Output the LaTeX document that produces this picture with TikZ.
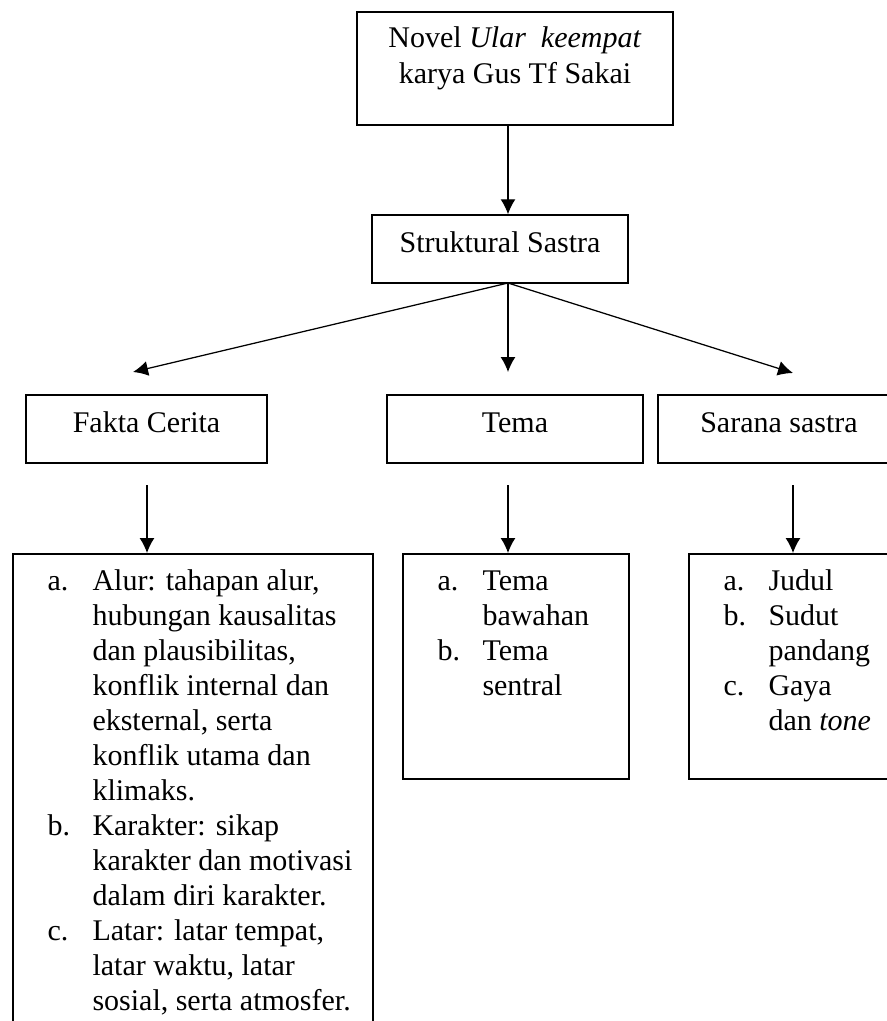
\documentclass[tikz,border=0pt]{standalone}
\usepackage{fontspec}
\setmainfont{Liberation Serif}
\usetikzlibrary{arrows.meta}
\tikzset{>={Latex[length=6pt, width=6pt]}}
\tikzset{
    kotak/.style={draw, line width=.6pt, inner sep=0pt},
    judul/.style={kotak, minimum height=27.2pt, text height=8pt, text depth=5.6pt},
    panah/.style={->, line width=.5pt},
}
\newcommand{\rinci}[1]{\begin{tabular}{@{}p{18pt}@{}l@{}}#1\end{tabular}}

\begin{document}
\begin{tikzpicture}[x=.4pt, y=-.4pt, font=\fontsize{12}{14}\selectfont]
    \useasboundingbox (0, 0) rectangle (887, 1021);
    % kotak judul
    \node[kotak, minimum width=126.4pt, minimum height=45.2pt](novel) at(515, 68.5){};
    \node[anchor=north, inner sep=0pt](novelteks) at(515, 21.6){\fontsize{12}{14.5}\selectfont
        \begin{tabular}{@{}c@{}}Novel \textit{Ular\ \ keempat}\\karya Gus Tf Sakai\end{tabular}};
    \node[judul, minimum width=102.4pt](struktural) at(500, 249){Struktural Sastra};
    \node[judul, minimum width=96.4pt](fakta) at(146.5, 429){Fakta Cerita};
    \node[judul, minimum width=102.4pt](tema) at(515, 429){Tema};
    \node[judul, minimum width=96.8pt](sarana) at(779, 429){Sarana sastra};
    % kotak rincian
    \node[kotak, anchor=north west, minimum width=144pt, minimum height=200pt](faktarinci) at(12, 553){};
    \node[kotak, anchor=north west, minimum width=90.4pt, minimum height=90pt](temarinci) at(402, 553){};
    \node[kotak, anchor=north west, minimum width=88pt, minimum height=90pt](saranarinci) at(688, 553){};
    \node[anchor=north west, inner sep=0pt](faktateks) at(47, 565.5){\rinci{
        a. & Alur: tahapan alur,\\ & hubungan kausalitas\\ & dan plausibilitas,\\
        & konflik internal dan\\ & eksternal, serta\\ & konflik utama dan\\ & klimaks.\\
        b. & Karakter: sikap\\ & karakter dan motivasi\\ & dalam diri karakter.\\
        c. & Latar: latar tempat,\\ & latar waktu, latar\\ & sosial, serta atmosfer.}};
    \node[anchor=north west, inner sep=0pt](temateks) at(437, 565.5){\rinci{
        a. & Tema\\ & bawahan\\ b. & Tema\\ & sentral}};
    \node[anchor=north west, inner sep=0pt](saranateks) at(723, 565.5){\rinci{
        a. & Judul\\ b. & Sudut\\ & pandang\\ c. & Gaya\\ & dan \textit{tone}}};
    % panah
    \coordinate (cabang) at(508, 283);
    \coordinate (ujungA) at(133, 372);
    \coordinate (ujungB) at(508, 372);
    \coordinate (ujungC) at(793, 373);
    \coordinate (pangkalA) at(147, 485);
    \coordinate (pangkalB) at(508, 485);
    \coordinate (pangkalC) at(793, 485);
    \draw[panah](novel.south -| cabang)--(struktural.north -| cabang);
    \foreach \u in {ujungA, ujungB, ujungC}
        \draw[panah](cabang)--(\u);
    \draw[panah](pangkalA)--(pangkalA |- faktarinci.north);
    \draw[panah](pangkalB)--(pangkalB |- temarinci.north);
    \draw[panah](pangkalC)--(pangkalC |- saranarinci.north);
\end{tikzpicture}
\end{document}
